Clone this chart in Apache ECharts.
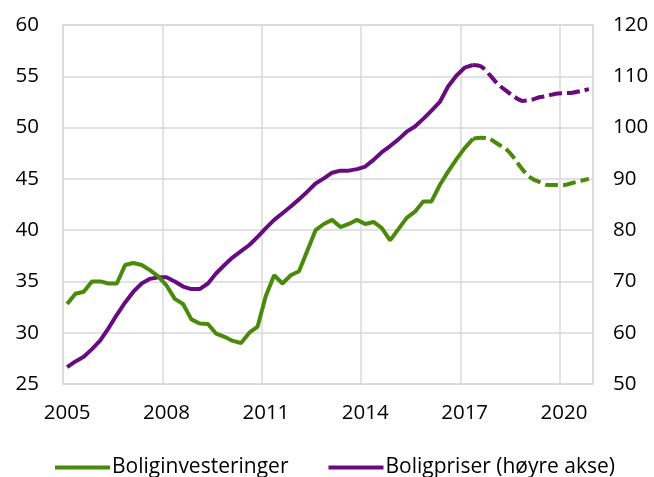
<!DOCTYPE html>
<html>
<head>
<meta charset="utf-8">
<script src="https://cdn.jsdelivr.net/npm/echarts@6/dist/echarts.min.js"></script>
<style>
html,body{margin:0;padding:0;background:#fff;}
#chart{width:654px;height:477px;}
</style>
</head>
<body>
<div id="chart"></div>
<script>
// Quarterly categories 2005K1 .. 2020K4
var years = [2005,2006,2007,2008,2009,2010,2011,2012,2013,2014,2015,2016,2017,2018,2019,2020];
var quarters = [];
years.forEach(function(y){ for (var q=1;q<=4;q++) quarters.push(y+'K'+q); });

// Boliginvesteringer (left axis), actual through 2017K2, projection afterwards
var investActual = [
  32.8,33.8,34.0,35.0, 35.0,34.8,34.8,36.6, 36.8,36.6,36.1,35.5,
  34.6,33.3,32.8,31.3, 30.9,30.85,29.9,29.6, 29.2,29.0,30.0,30.6,
  33.6,35.6,34.8,35.6, 36.0,38.0,40.0,40.6, 41.0,40.3,40.6,41.0,
  40.6,40.8,40.2,39.0, 40.1,41.2,41.8,42.8, 42.8,44.4,45.7,46.9,
  48.0,48.9
];
var investProj = [48.9,49.0,48.9,48.4,47.9,47.0,45.9,45.1,44.7,44.4,44.4,44.4,44.6,44.8,45.0];

// Boligpriser (right axis)
var priceActual = [
  53.3,54.4,55.3,56.8, 58.5,60.9,63.5,65.9, 68.0,69.6,70.5,70.8,
  70.8,70.0,69.0,68.5, 68.5,69.6,71.6,73.2, 74.7,75.9,77.1,78.7,
  80.4,82.0,83.3,84.6, 86.0,87.5,89.1,90.1, 91.2,91.6,91.6,91.9,
  92.4,93.7,95.2,96.4, 97.7,99.2,100.2,101.7, 103.3,105.0,108.0,110.1,
  111.7,112.2
];
var priceProj = [112.2,111.9,110.3,108.5,107.2,106.0,105.2,105.4,105.9,106.2,106.6,106.7,106.8,107.1,107.5];

var leftTicks = [25,60,5];
var rightTicks = [50,120,10];

function pad(arr, start){
  var out = [];
  for (var i=0;i<quarters.length;i++){
    out.push(i<start ? null : (arr[i-start]===undefined ? null : arr[i-start]));
  }
  return out;
}
var projStart = investActual.length - 1;

var green = '#4a8a0b';
var purple = '#680b80';
var grey = '#d9d9d9';
var font = 'Open Sans';

var chart = echarts.init(document.getElementById('chart'));
chart.setOption({
  animation: false,
  textStyle: {fontFamily: font},
  grid: {left: 63, right: 61, top: 25, bottom: 93, show: true, borderColor: grey, borderWidth: 1.5},
  legend: {
    left: 50, top: 452,
    icon: 'rect', itemWidth: 55, itemHeight: 4, itemGap: 40,
    textStyle: {fontFamily: font, fontSize: 21, color: '#000', padding: [0,0,0,-3]},
    data: ['Boliginvesteringer', 'Boligpriser (høyre akse)']
  },
  xAxis: {
    type: 'category', data: quarters, boundaryGap: true,
    axisLine: {show: false}, axisTick: {show: false},
    axisLabel: {
      interval: 11, margin: 19, fontSize: 20.5, color: '#000', fontFamily: font,
      formatter: function(v){ return v.slice(0,4); }
    },
    splitLine: {show: true, interval: 11, lineStyle: {color: grey, width: 1.5}}
  },
  yAxis: [
    {type: 'value', min: leftTicks[0], max: leftTicks[1], interval: leftTicks[2],
     axisLine: {show: false}, axisTick: {show: false},
     axisLabel: {fontSize: 20.5, color: '#000', margin: 24, fontFamily: font},
     splitLine: {lineStyle: {color: grey, width: 1.5}}},
    {type: 'value', min: rightTicks[0], max: rightTicks[1], interval: rightTicks[2],
     axisLine: {show: false}, axisTick: {show: false},
     axisLabel: {fontSize: 20.5, color: '#000', margin: 20, fontFamily: font},
     splitLine: {show: false}}
  ],
  series: [
    {name: 'Boliginvesteringer', type: 'line', yAxisIndex: 0, data: investActual,
     symbol: 'none', color: green, lineStyle: {width: 4, color: green}, z: 3},
    {name: 'Boliginvesteringer (anslag)', type: 'line', yAxisIndex: 0, data: pad(investProj, projStart),
     symbol: 'none', smooth: 0.3, color: green, lineStyle: {width: 4, color: green, type: [13,5]}, z: 3},
    {name: 'Boligpriser (høyre akse)', type: 'line', yAxisIndex: 1, data: priceActual,
     symbol: 'none', color: purple, lineStyle: {width: 4, color: purple}, z: 2},
    {name: 'Boligpriser (anslag)', type: 'line', yAxisIndex: 1, data: pad(priceProj, projStart),
     symbol: 'none', smooth: 0.3, color: purple, lineStyle: {width: 4, color: purple, type: [13,5]}, z: 2}
  ]
});
</script>
</body>
</html>
